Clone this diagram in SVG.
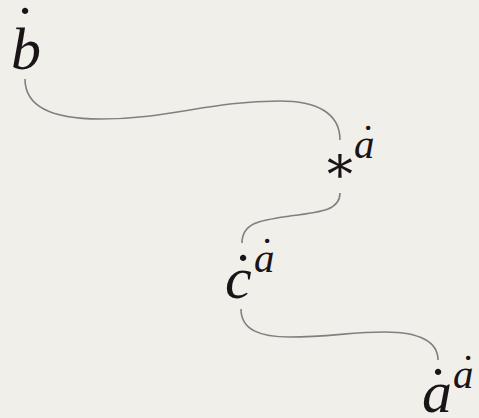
<svg xmlns="http://www.w3.org/2000/svg" width="479" height="418" viewBox="0 0 479 418">
<style>
.bg{fill:#f0efe9}
.m{font-family:"Liberation Serif","Times New Roman",serif;font-style:italic;fill:#1a1418}
.d{font-family:"Liberation Serif","Times New Roman",serif;fill:#1a1418;text-anchor:middle}
.big{font-size:60px}
.sup{font-size:41px}
.ast{font-family:"DejaVu Serif","Liberation Serif",serif;font-size:52px;fill:#1a1418}
.c{fill:none;stroke:#808080;stroke-width:1.6}
</style>
<rect class="bg" x="0" y="0" width="479" height="418"/>
<g id="connectors">
<path class="c" d="M25,79 C25,105 50,119 100,119 C170,119 210,101 280,101 C315,101 340,112 340,140"/>
<path class="c" d="M340,193 C340,210 322,212 290,216 C262,220 242,222 242,243"/>
<path class="c" d="M241,309 C241,330 260,337 290,337 C330,337 350,332 385,332 C420,332 438,342 438,360"/>
</g>
<g id="node-b"><text class="m big" x="11" y="69">b</text><text class="d big" x="25" y="47">˙</text></g>
<g id="node-ast"><text class="ast" x="340" y="182" text-anchor="middle">∗</text><text class="m sup" x="354" y="158">a</text><text class="d sup" x="368" y="152">˙</text></g>
<g id="node-c"><text class="m big" x="225" y="298">c</text><text class="d big" x="243" y="294">˙</text><text class="m sup" x="254" y="272">a</text><text class="d sup" x="267" y="265">˙</text></g>
<g id="node-a"><text class="m big" x="422" y="412">a</text><text class="d big" x="438" y="408">˙</text><text class="m sup" x="453" y="388">a</text><text class="d sup" x="468" y="382">˙</text></g>
</svg>
